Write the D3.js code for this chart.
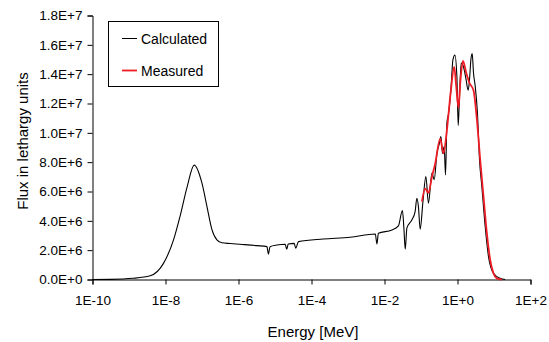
<!DOCTYPE html>
<html>
<head>
<meta charset="utf-8">
<script src="https://cdn.jsdelivr.net/npm/d3@7"></script>
<style>
  body { margin: 0; background: #fff; }
  svg text { font-family: "Liberation Sans", Arial, sans-serif; fill: #000; }
</style>
</head>
<body>
<div id="chart"></div>
<script>
// energy in MeV, flux in units of 1E6
var calcEnergy = [1e-10, 3.1e-10, 1.3e-9, 3.8e-9, 8.8e-9, 1.66e-8, 2.5e-8, 3.9e-8, 6.1e-8, 9.9e-8,
  1.36e-7, 1.87e-7, 2.56e-7, 3.5e-7, 5.9e-7, 1.1e-6, 3.2e-6, 6.0e-6, 6.6e-6, 7.3e-6,
  1.13e-5, 1.9e-5, 2.1e-5, 2.3e-5, 3.36e-5, 3.7e-5, 4.4e-5, 2.1e-4, 1.15e-3, 5.6e-3,
  6.2e-3, 6.8e-3, 1.6e-2, 2.4e-2, 3.1e-2, 3.4e-2, 3.7e-2, 4.1e-2, 5.6e-2, 6.9e-2,
  7.7e-2, 8.5e-2, 9.5e-2, 0.113, 0.136, 0.160, 0.199, 0.230, 0.273, 0.321,
  0.351, 0.388, 0.432, 0.469, 0.513, 0.567, 0.659, 0.748, 0.849, 0.963,
  1.045, 1.135, 1.262, 1.46, 1.70, 1.96, 2.13, 2.33, 2.53, 2.74,
  3.05, 3.53, 4.01, 4.66, 5.74, 7.07, 9.69, 14.8, 20.3];
var calcFlux = [0, 0.01, 0.08, 0.25, 1.1, 2.7, 4.3, 6.3, 7.8, 6.6,
  5.0, 3.4, 2.7, 2.5, 2.45, 2.4, 2.31, 2.24, 1.74, 2.24,
  2.35, 2.4, 2.06, 2.42, 2.46, 2.13, 2.58, 2.76, 2.88, 3.1,
  2.42, 3.15, 3.38, 3.65, 4.7, 3.5, 2.06, 3.5, 4.06, 4.63,
  5.54, 4.97, 3.43, 5.31, 7.02, 5.2, 7.25, 6.8, 8.6, 9.3,
  9.75, 8.6, 9.06, 7.13, 10.66, 11.3, 12.9, 14.98, 15.3, 13.8,
  10.5, 12.5, 14.76, 14.5, 13.7, 12.9, 13.6, 15.0, 15.4, 14.1,
  13.2, 11.3, 8.15, 6.3, 3.6, 1.56, 0.42, 0.08, 0];

var measEnergy = [0.106, 0.130, 0.160, 0.199, 0.245, 0.336, 0.413, 0.513, 0.659, 0.813,
  0.921, 1.064, 1.19, 1.41, 1.73, 2.13, 2.74, 3.40, 4.19, 5.16,
  6.38, 7.87, 9.69, 12.0, 16.4];
var measFlux = [5.31, 6.2, 5.9, 7.0, 7.9, 9.6, 8.6, 10.2, 12.9, 14.5,
  13.2, 11.7, 13.4, 14.9, 14.1, 13.4, 12.9, 10.9, 8.15, 5.65,
  3.15, 1.33, 0.42, 0.08, 0];

var xTicks = [1e-10, 1e-8, 1e-6, 1e-4, 1e-2, 1, 100];
var yTicks = [0, 2e6, 4e6, 6e6, 8e6, 1e7, 1.2e7, 1.4e7, 1.6e7, 1.8e7];
var seriesNames = ["Calculated", "Measured"];
var seriesColors = ["#000000", "#ee1c25"];

var width = 549, height = 342;
var svg = d3.select('#chart').append('svg')
  .attr('width', width).attr('height', height);

var x = d3.scaleLog().domain([1e-10, 100]).range([92.5, 530.5]);
var y = d3.scaleLinear().domain([0, 1.8e7]).range([279.5, 15.5]);

function fmtY(v) {
  if (v === 0) return '0.0E+0';
  var e = Math.floor(Math.log10(v) + 1e-9);
  return (v / Math.pow(10, e)).toFixed(1) + 'E+' + e;
}
function fmtX(v) {
  var e = Math.round(Math.log10(v));
  return '1E' + (e < 0 ? '-' : '+') + Math.abs(e);
}

var xAxis = svg.append('g').attr('transform', 'translate(0,279.5)')
  .call(d3.axisBottom(x).tickValues(xTicks).tickFormat(fmtX).tickSizeOuter(0).tickSize(5).tickPadding(11));
var yAxis = svg.append('g').attr('transform', 'translate(92.5,0)')
  .call(d3.axisLeft(y).tickValues(yTicks).tickFormat(fmtY).tickSizeOuter(0).tickSize(5).tickPadding(5));

[xAxis, yAxis].forEach(function(g) {
  g.selectAll('path, line').attr('stroke', '#000').attr('stroke-width', 1);
  g.selectAll('text').style('font-size', '13.5px').attr('fill', '#000');
});

var line = d3.line()
  .x(function(d) { return x(d[0]); })
  .y(function(d) { return y(d[1] * 1e6); })
  .curve(d3.curveMonotoneX);

svg.append('path')
  .datum(d3.zip(calcEnergy, calcFlux))
  .attr('d', line)
  .attr('fill', 'none')
  .attr('stroke', seriesColors[0])
  .attr('stroke-width', 1.1);

svg.append('path')
  .datum(d3.zip(measEnergy, measFlux))
  .attr('d', line)
  .attr('fill', 'none')
  .attr('stroke', seriesColors[1])
  .attr('stroke-width', 1.8);

// legend
var legend = svg.append('g');
legend.append('rect')
  .attr('x', 108.5).attr('y', 21.5).attr('width', 110).attr('height', 65)
  .attr('fill', '#fff').attr('stroke', '#000').attr('stroke-width', 1);
seriesNames.forEach(function(name, i) {
  var ly = 38.5 + i * 32;
  legend.append('line')
    .attr('x1', 122).attr('x2', 137).attr('y1', ly).attr('y2', ly)
    .attr('stroke', seriesColors[i]).attr('stroke-width', i ? 1.8 : 1);
  legend.append('text')
    .attr('x', 141).attr('y', ly + 5)
    .style('font-size', '14px')
    .text(name);
});

// axis titles
svg.append('text')
  .attr('transform', 'translate(28,141) rotate(-90)')
  .attr('text-anchor', 'middle')
  .style('font-size', '15px')
  .text('Flux in lethargy units');

svg.append('text')
  .attr('x', 313).attr('y', 337)
  .attr('text-anchor', 'middle')
  .style('font-size', '15px')
  .text('Energy [MeV]');
</script>
</body>
</html>
